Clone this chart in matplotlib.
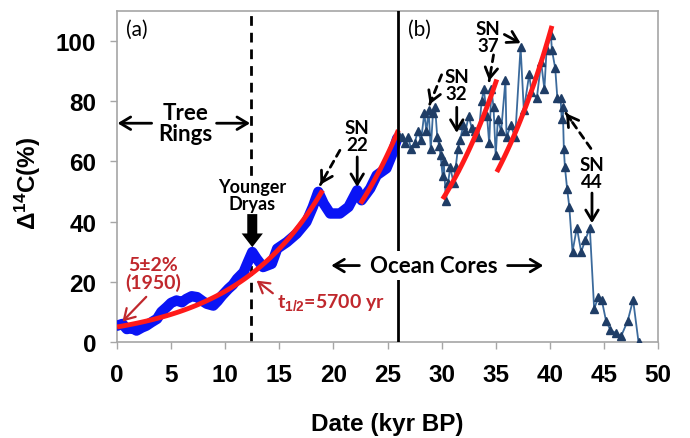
import matplotlib
matplotlib.use("Agg")
import matplotlib.pyplot as plt  # noqa: E402
import numpy as np  # noqa: E402

plt.rcParams["mathtext.fontset"] = "custom"
plt.rcParams["mathtext.rm"] = "Liberation Sans:bold"
plt.rcParams["mathtext.it"] = "Liberation Sans:bold"
plt.rcParams["mathtext.bf"] = "Liberation Sans:bold"

TICK_FONT = ["Liberation Sans", "DejaVu Sans"]
NOTE_FONT = ["Lato", "DejaVu Sans"]
DARK_RED = "#c0282d"

# tree rings + early record (kyr BP, delta 14C %)
tree_age = [0.0, 0.5, 0.9, 1.4, 1.8, 2.3, 2.7, 3.2, 3.7, 4.1, 4.6, 5.0, 5.5, 6.0, 6.4,
            6.9, 7.4, 7.9, 8.3, 8.9, 9.3, 9.7, 10.3, 10.7, 11.1, 11.7, 12.1, 12.5,
            12.9, 13.5, 14.3, 14.8, 15.7, 16.6, 17.5, 18.1, 18.6, 19.1, 19.7, 20.6,
            21.4, 22.2, 22.6, 23.4, 24.0, 24.9, 25.4, 25.9]
tree_d14c = [5.4, 6.0, 4.3, 4.6, 3.8, 4.8, 5.4, 6.6, 7.7, 10.0, 11.6, 13.0, 13.8, 13.2, 14.3,
             15.2, 14.9, 13.6, 12.7, 12.1, 13.6, 15.4, 17.7, 19.0, 21.0, 23.2, 26.6, 29.9,
             27.7, 24.9, 26.0, 31.0, 33.2, 36.0, 39.9, 44.9, 49.9, 46.0, 42.7, 42.7,
             44.9, 50.4, 47.1, 51.0, 55.4, 57.7, 62.1, 67.7]

# ocean cores
ocean_age = [26.0, 26.3, 26.6, 26.9, 27.2, 27.5, 27.8, 28.1, 28.4, 28.6, 28.8, 29.0,
             29.2, 29.4, 29.6, 29.8, 29.9, 30.1, 30.2, 30.4, 30.6, 30.8, 31.1, 31.3,
             31.5, 31.7, 32.0, 32.2, 32.5, 32.8, 33.1, 33.4, 33.7, 33.9, 34.2, 34.4,
             34.6, 34.8, 35.0, 35.2, 35.5, 35.9, 36.0, 36.4, 36.8, 37.3, 37.6, 38.1,
             38.3, 38.8, 39.2, 39.5, 39.7, 40.1, 40.2, 40.5, 40.7, 41.0, 41.1, 41.2,
             41.3, 41.4, 41.6, 41.8, 42.1, 42.5, 42.9, 43.3, 43.7, 44.1, 44.5, 44.8,
             45.2, 45.6, 46.1, 46.6, 47.2, 47.7, 48.2]
ocean_d14c = [69, 68, 66, 68, 64, 66, 70, 67, 76, 70, 77, 64,
              76, 78, 68, 65, 62, 55, 60, 47, 53, 58, 53, 58,
              64, 67, 72, 70, 75, 71, 70, 68, 80, 84, 75, 66,
              84, 78, 62, 74, 70, 87, 68, 72, 68, 98, 77, 89,
              83, 81, 93, 84, 97, 102, 97, 91, 81, 81, 74, 78,
              64, 58, 51, 45, 30, 38, 30, 34, 38, 11, 15, 14,
              7, 4, 3, 2, 7, 14, 0]

# exponential decay fits: (start kyr, end kyr, value at start)
HALF_LIFE = 5.7
fit_segments = [(0.0, 19.0, 5.0), (22.5, 26.0, 46.0), (30.1, 35.1, 47.5), (35.1, 40.2, 56.5)]

x_ticks = [0, 5, 10, 15, 20, 25, 30, 35, 40, 45, 50]
y_ticks = [0, 20, 40, 60, 80, 100]

fig = plt.figure(figsize=(6.9, 4.39), dpi=100)
ax = fig.add_axes([0.1696, 0.2187, 0.784, 0.754])

ax.plot(tree_age, tree_d14c, color="#0a14f5", lw=7.5, solid_joinstyle="round",
        solid_capstyle="round", zorder=3)
for t0, t1, y0 in fit_segments:
    t = np.linspace(t0, t1, 80)
    ax.plot(t, y0 * 2 ** ((t - t0) / HALF_LIFE), color="#ff1a1a", lw=3.5,
            solid_capstyle="butt", zorder=4)
ax.plot(ocean_age, ocean_d14c, color="#3b6a9c", lw=1.3, marker="^", ms=5.5,
        mfc="#1f3d66", mec="#1f3d66", zorder=3)

ax.axvline(12.4, color="k", lw=2, dashes=(3.5, 2.5), zorder=2)
ax.axvline(26.0, color="k", lw=2, zorder=5)

ax.set_xlim(0, 50)
ax.set_ylim(0, 110)
ax.set_xticks(x_ticks)
ax.set_yticks(y_ticks)
for s in ax.spines.values():
    s.set_color("#a6a6a6")
    s.set_linewidth(1.2)
ax.tick_params(direction="out", length=5, width=1, color="#a6a6a6", labelsize=17.5, pad=10)
for lab in ax.get_xticklabels() + ax.get_yticklabels():
    lab.set_fontweight("bold")
    lab.set_family(TICK_FONT)

ax.set_xlabel("Date (kyr BP)", fontsize=17.5, fontweight="bold", family=TICK_FONT)
ax.set_ylabel(r"Δ$^{14}$C(%)", fontsize=17.5, fontweight="bold", family=TICK_FONT)
ax.xaxis.set_label_coords(0.5, -0.21)
ax.yaxis.set_label_coords(-0.137, 0.483)


def arrow(p_from, p_to, color="k", lw=2, style="->,head_length=0.5,head_width=0.3", ms=15, ls="-"):
    ax.annotate("", xy=p_to, xytext=p_from,
                arrowprops=dict(arrowstyle=style, color=color, lw=lw, ls=ls,
                                shrinkA=0, shrinkB=0, mutation_scale=ms), zorder=6)


def dashed_arrow(p_from, p_to):
    arrow(p_from, p_to, style="-", ls=(0, (2.5, 2)))
    tip_from = (p_to[0] + (p_from[0] - p_to[0]) * 0.2, p_to[1] + (p_from[1] - p_to[1]) * 0.2)
    arrow(tip_from, p_to)


def note(x, y, s, size=13.5, color="k", weight="bold", **kw):
    ax.text(x, y, s, fontsize=size, color=color, fontweight=weight, family=NOTE_FONT,
            ha="center", va="center", linespacing=1.0, zorder=7, **kw)


white = dict(fc="white", ec="none", pad=1.5)

ax.text(0.8, 104, "(a)", fontsize=15, family=NOTE_FONT, ha="left", va="center")
ax.text(26.9, 104, "(b)", fontsize=15, family=NOTE_FONT, ha="left", va="center")

note(6.3, 72.7, "Tree\nRings", size=16)
arrow((3.2, 72.7), (0.05, 72.7))
arrow((9.2, 72.7), (12.3, 72.7))

note(12.5, 48.8, "Younger\nDryas", size=13, bbox=white)
arrow((12.5, 42.5), (12.5, 31.5), style="simple,head_length=0.55,head_width=0.85,tail_width=0.4",
      ms=18, lw=0)

note(3.3, 22.7, "5±2%\n(1950)", size=14, color=DARK_RED)
arrow((2.7, 15.0), (0.5, 6.8), color=DARK_RED, lw=1.6)

ax.text(14.8, 13.5, r"t$_{1/2}$=5700 yr", fontsize=14, color=DARK_RED, fontweight="bold",
        family=NOTE_FONT, ha="left", va="center", zorder=7)
arrow((14.4, 16.2), (12.9, 20.4), color=DARK_RED, lw=1.6)

note(22.2, 68.3, "SN\n22")
arrow((22.2, 61.5), (22.2, 51.5))
dashed_arrow((20.6, 63.7), (18.8, 52.3))

note(31.4, 85.4, "SN\n32")
arrow((31.4, 78.0), (31.4, 69.5))
dashed_arrow((30.0, 88.8), (28.9, 79.0))

note(34.3, 101.5, "SN\n37")
arrow((35.8, 102.2), (37.3, 99.3))
dashed_arrow((34.8, 95.4), (34.4, 86.8))

note(43.9, 56.0, "SN\n44")
arrow((43.9, 49.5), (43.9, 39.5))
dashed_arrow((43.8, 64.3), (41.5, 76.0))

note(29.3, 25.4, "Ocean Cores", size=16, bbox=dict(fc="white", ec="none", pad=3))
arrow((22.4, 25.4), (19.8, 25.4))
arrow((36.1, 25.4), (39.4, 25.4))

fig.savefig("out.png", dpi=100)
